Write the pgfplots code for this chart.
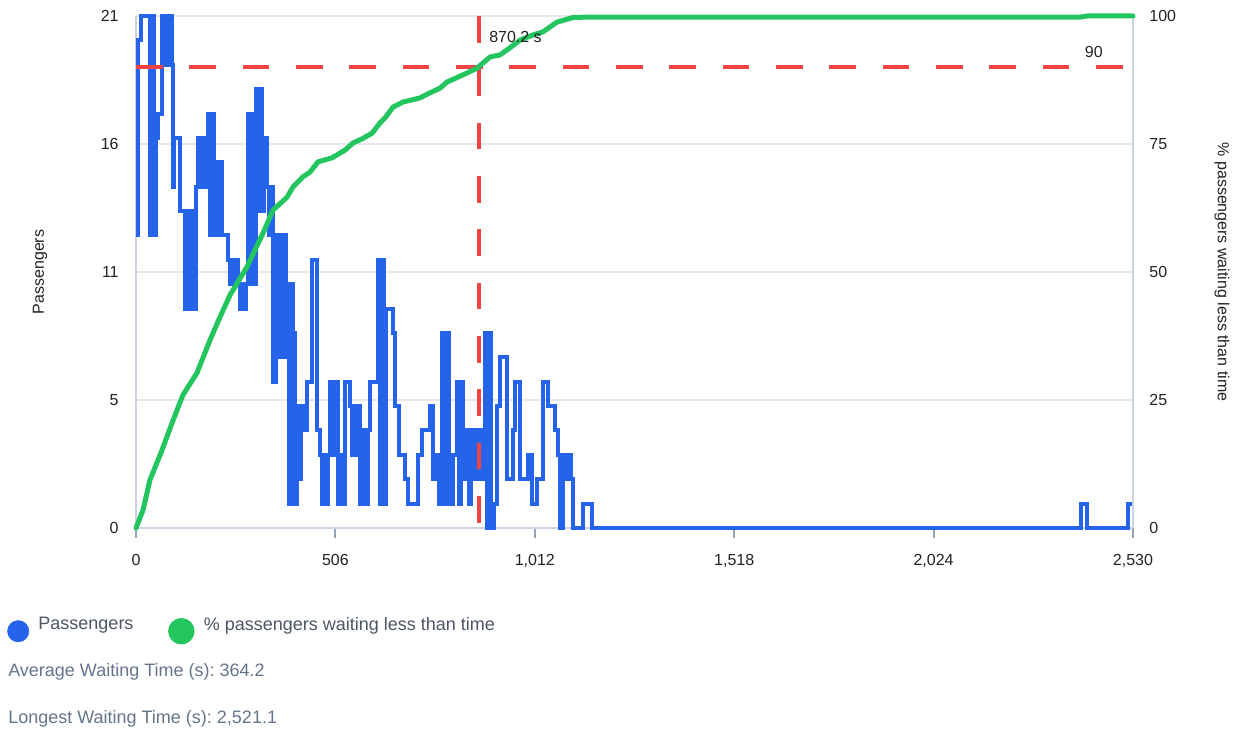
\documentclass[border=0pt]{standalone}
\usepackage{pgfplots}
\pgfplotsset{compat=1.18}
\usepackage{fontspec}
\setmainfont{Liberation Sans}
\frenchspacing
\definecolor{cblue}{HTML}{2563EB}
\definecolor{cgreen}{HTML}{22C55E}
\definecolor{cred}{HTML}{EF4444}
\definecolor{cgrid}{HTML}{E5E7EB}
\definecolor{caxis}{HTML}{CBD5E1}
\definecolor{ctick}{HTML}{94A3B8}
\definecolor{ctext}{HTML}{222222}
\definecolor{clegend}{HTML}{4B5563}
\definecolor{cnote}{HTML}{64748B}
\pgfplotstableread{
t v
0 12
5.1 20
12.7 21
35.5 12
40.6 21
45.7 12
50.8 16
55.8 17
66.0 21
71.1 19
76.1 21
81.2 19
86.3 21
91.4 19
93.9 14
96.4 16
111.7 13
124.3 9
129.4 13
134.5 9
139.6 13
144.6 9
152.3 14
157.3 16
162.4 14
167.5 16
172.6 14
182.7 17
187.8 12
192.9 17
197.9 12
203.0 15
208.1 12
213.2 15
218.2 12
233.5 11
238.5 10
243.6 11
248.7 10
253.8 11
258.8 10
263.9 9
269.0 10
274.1 9
279.1 10
284.2 17
289.3 10
294.4 17
299.4 10
304.5 18
309.6 13
314.7 18
319.7 13
324.8 16
332.4 14
337.5 12
342.6 14
347.7 6
355.3 12
360.3 7
365.4 12
370.5 7
375.6 12
380.6 7
383.2 10
388.3 1
393.3 10
398.4 8
403.5 1
408.6 5
413.6 2
418.7 5
423.8 4
433.9 6
446.6 11
459.3 4
466.9 3
472.0 1
477.1 3
482.1 1
487.2 3
492.3 6
499.9 3
505.0 6
512.6 1
520.2 3
525.3 1
530.4 6
543.0 5
548.1 3
553.2 5
558.3 3
563.3 5
568.4 1
576.0 4
583.6 1
588.7 4
593.8 6
614.1 11
619.2 1
624.2 11
629.3 1
634.4 9
652.2 8
657.2 5
667.4 3
682.6 2
690.2 1
715.6 3
725.8 4
746.1 5
753.7 2
763.8 3
768.9 1
774.0 3
776.5 8
784.1 1
789.2 8
794.3 3
799.3 1
804.4 3
814.6 6
819.6 1
824.7 6
829.8 4
834.9 2
839.9 4
845.0 1
850.1 4
855.2 2
860.2 4
865.3 2
870.4 4
875.5 2
880.5 4
885.6 8
890.7 0
895.8 8
900.8 0
908.5 1
916.1 5
923.7 7
941.5 2
956.7 4
961.8 6
974.4 2
994.7 3
1004.9 1
1017.6 2
1032.8 6
1045.5 5
1063.3 4
1070.9 3
1075.9 0
1083.6 3
1088.6 2
1096.2 3
1103.9 2
1108.9 0
1134.3 1
1157.1 0
2398.0 1
2413.3 0
2517.3 1
2530 1
}\passengers
\pgfplotstableread{
t p
0 0
17.8 3.5
35.5 9.4
66.0 15.2
91.4 20.5
119.3 26.0
154.8 30.3
187.8 36.7
213.2 41.2
238.5 45.5
281.7 51.0
322.3 57.6
347.7 62.1
383.2 64.6
398.4 66.6
423.8 68.6
441.5 69.5
461.8 71.5
497.4 72.3
530.4 73.8
550.7 75.2
573.5 76.0
598.9 77.1
619.2 79.1
631.9 80.1
652.2 82.2
677.5 83.2
720.7 84.0
746.1 85.0
771.4 85.9
789.2 87.1
829.8 88.5
865.3 89.8
898.3 92.0
923.7 92.4
949.1 93.8
974.5 95.3
1007.4 96.3
1032.8 96.9
1068.3 98.8
1108.9 99.7
1152 99.8
2398 99.8
2413 100
2530 100
}\cumulative
\begin{document}
\begin{tikzpicture}
\useasboundingbox (-102pt,-153pt) rectangle (830.25pt,396pt);
\pgfplotsset{
  common/.style={
    at={(0pt,0pt)}, anchor=south west,
    scale only axis, width=747.75pt, height=384pt,
    xmin=0, xmax=2530, clip=false,
    tick label style={font=\fontsize{12}{14}\selectfont, text=ctext},
    label style={font=\fontsize{12}{14}\selectfont, text=ctext},
    /pgf/number format/assume math mode=true,
    tick align=outside, major tick length=7.5pt,
    y tick style={draw=none},
    axis line style={caxis, line width=1.5pt},
  }
}
\begin{axis}[common,
  ymin=0, ymax=21,
  axis x line*=bottom, axis y line*=left,
  ytick={0,5.25,10.5,15.75,21}, yticklabels={0,5,11,16,21},
  ymajorgrids, grid style={cgrid, line width=1.5pt},
  xtick={0,506,1012,1518,2024,2530},
  xticklabels={0,506,{1,012},{1,518},{2,024},{2,530}},
  x tick style={ctick, line width=1.5pt},
  xticklabel style={yshift=-9pt},
  yticklabel style={xshift=-2pt},
  ylabel={Passengers},
  ylabel style={at={(axis description cs:-0.0963,0.5)}, anchor=center},
]
\addplot[const plot, cblue, line width=3pt] table[x=t, y=v] {\passengers};
\end{axis}
\begin{axis}[common,
  ymin=0, ymax=100,
  axis y line*=right, axis x line=none, xtick=\empty,
  ytick={0,25,50,75,100},
  yticklabel style={xshift=1.25pt},
  ylabel={\% passengers waiting less than time},
  ylabel style={at={(axis description cs:1.0893,0.5)}, anchor=center, rotate=180},
  legend columns=2,
  legend style={at={(-0.1294,-0.198)}, anchor=west, draw=none, fill=none,
    inner sep=0pt, font=\fontsize{13.5}{16}\selectfont, text=clegend,
    /tikz/every odd column/.append style={column sep=5pt},
    /tikz/every even column/.append style={column sep=24pt}},
  legend cell align=left,
]
\addplot[cred, line width=2.6pt, dash pattern=on 20pt off 20pt, forget plot] coordinates {(0,90) (2530,90)};
\addplot[cred, line width=2.6pt, dash pattern=on 20pt off 20pt, forget plot] coordinates {(870.2,100) (870.2,0)};
\addlegendimage{legend image code/.code={\fill[cblue] (8pt,-5pt) circle (8pt);}}
\addlegendentry{Passengers}
\addplot[cgreen, line width=3.75pt, line join=round, line cap=round,
  legend image code/.code={\fill[cgreen] (8pt,-5pt) circle (8pt);}] table[x=t, y=p] {\cumulative};
\addlegendentry{\% passengers waiting less than time}
\node[anchor=west, font=\fontsize{12}{14}\selectfont, text=ctext, inner sep=0pt] at (axis cs:895.8,95.9) {870.2 s};
\node[anchor=east, font=\fontsize{12}{14}\selectfont, text=ctext, inner sep=0pt] at (axis cs:2454,93) {90};
\end{axis}
\node[anchor=west, inner sep=0pt, font=\fontsize{13.5}{16}\selectfont, text=cnote] at (-96pt,-108pt) {Average Waiting Time (s): 364.2};
\node[anchor=west, inner sep=0pt, font=\fontsize{13.5}{16}\selectfont, text=cnote] at (-96pt,-143.25pt) {Longest Waiting Time (s): 2,521.1};
\end{tikzpicture}
\end{document}
